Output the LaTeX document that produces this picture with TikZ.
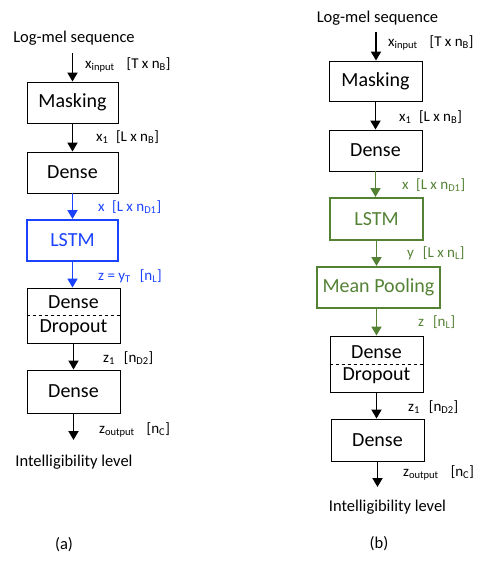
\documentclass[tikz,border=0pt]{standalone}
\usepackage{fontspec}
\setmainfont{Carlito}
\usetikzlibrary{arrows.meta}
\definecolor{myblue}{RGB}{26,66,255}
\definecolor{mygreen}{RGB}{84,130,53}
\tikzset{
  box/.style={draw=black, line width=0.9pt, minimum width=91pt, minimum height=41pt, inner sep=0pt, font=\fontsize{20}{22}\selectfont},
  bluebox/.style={box, draw=myblue, line width=2pt, text=myblue},
  greenbox/.style={box, draw=mygreen, line width=2pt, text=mygreen},
  arr/.style={line width=1.8pt, -{Triangle[length=9pt,width=10pt]}},
  lbl/.style={anchor=west, inner sep=0pt, font=\fontsize{15}{17}\selectfont},
  ttl/.style={inner sep=0pt, font=\fontsize{16.5}{18}\selectfont},
}
\newcommand{\sbs}[1]{\textsubscript{#1}}
\begin{document}
\begin{tikzpicture}[x=1pt,y=-1pt]
\useasboundingbox (0,0) rectangle (498,565);
% ---------- (a) ----------
\node[ttl] (a-in) at (74,38) {Log-mel sequence};
\coordinate (a-start) at (72.5,53);
\node[box] (a-mask) at (72.5,102.5) {Masking};
\node[box] (a-dense1) at (72.5,172.5) {Dense};
\node[bluebox] (a-lstm) at (72.5,240.5) {LSTM};
\node[box, minimum width=93pt, minimum height=55pt] (a-dd) at (73.5,315.5) {};
\node[box, draw=none] (a-ddtop) at (73.5,302.5) {Dense};
\node[box, draw=none] (a-ddbot) at (73.5,328) {Dropout};
\node[box, minimum width=93pt, minimum height=43pt] (a-dense2) at (73.5,391.5) {};
\node[box, draw=none] (a-dense2t) at (73.5,391.5) {Dense};
\coordinate (a-end) at (73.5,440);
\node[ttl] (a-out) at (74,462) {Intelligibility level};
\node[ttl] (a-cap) at (64,545) {(a)};

\draw[arr] (a-start) -- (a-mask.north);
\draw[arr] (a-mask.south) -- (a-dense1.north);
\draw[arr, draw=myblue, fill=myblue] (a-dense1.south) -- (a-lstm.north);
\draw[arr, draw=myblue, fill=myblue] (a-lstm.south) -- (a-lstm.south |- a-dd.north);
\draw[dashed, line width=0.9pt] (a-dd.west) -- (a-dd.east);
\draw[arr] (a-dd.south) -- (a-dense2.north);
\draw[arr] (a-dense2.south) -- (a-end);

\node[lbl] (a-l1) at (85,65) {x\sbs{input}\hspace{0.8em}[T x n\sbs{B}]};
\node[lbl] (a-l2) at (96,137) {x\sbs{1}\hspace{0.5em}[L x n\sbs{B}]};
\node[lbl, text=myblue] (a-l3) at (98,207) {x\hspace{0.5em}[L x n\sbs{D1}]};
\node[lbl, text=myblue] (a-l4) at (98,276) {z = y\sbs{T}\hspace{0.6em}[n\sbs{L}]};
\node[lbl] (a-l5) at (103,358) {z\sbs{1}\hspace{0.6em}[n\sbs{D2}]};
\node[lbl] (a-l6) at (99,430) {z\sbs{output}\hspace{0.8em}[n\sbs{C}]};

% ---------- (b) ----------
\node[ttl] (b-in) at (377.5,18) {Log-mel sequence};
\coordinate (b-start) at (376,32);
\node[box, minimum width=93pt, minimum height=40pt] (b-mask) at (375.5,81) {Masking};
\node[box, minimum width=93pt, minimum height=41pt] (b-dense1) at (375.5,150.5) {Dense};
\node[greenbox, minimum width=93pt, minimum height=42pt] (b-lstm) at (376.5,219) {LSTM};
\node[greenbox, minimum width=123pt, minimum height=41pt] (b-pool) at (378.5,287.5) {Mean Pooling};
\node[box, minimum width=93pt, minimum height=56pt] (b-dd) at (376.5,364) {};
\node[box, draw=none] (b-ddtop) at (376.5,352) {Dense};
\node[box, draw=none] (b-ddbot) at (376.5,376) {Dropout};
\node[box, minimum width=93pt, minimum height=42pt] (b-dense2) at (377.5,440) {Dense};
\coordinate (b-end) at (377.5,487);
\node[ttl] (b-out) at (387.5,507) {Intelligibility level};
\node[ttl] (b-cap) at (379,544) {(b)};

\draw[arr] (b-start) -- (b-start |- b-mask.north);
\draw[arr] (b-mask.south) -- (b-dense1.north);
\draw[arr, draw=mygreen, fill=mygreen] (b-dense1.south) -- (b-dense1.south |- b-lstm.north);
\draw[arr, draw=mygreen, fill=mygreen] (b-lstm.south) -- (b-lstm.south |- b-pool.north);
\draw[arr, draw=mygreen, fill=mygreen] (b-lstm.south |- b-pool.south) -- (b-lstm.south |- b-dd.north);
\draw[dashed, line width=0.9pt] (b-dd.west) -- (b-dd.east);
\draw[arr] (b-dd.south) -- (b-dd.south |- b-dense2.north);
\draw[arr] (b-dense2.south) -- (b-end);

\node[lbl] (b-l1) at (388,43) {x\sbs{input}\hspace{0.8em}[T x n\sbs{B}]};
\node[lbl] (b-l2) at (399,117) {x\sbs{1}\hspace{0.5em}[L x n\sbs{B}]};
\node[lbl, text=mygreen] (b-l3) at (402,185) {x\hspace{0.5em}[L x n\sbs{D1}]};
\node[lbl, text=mygreen] (b-l4) at (407,253) {y\hspace{0.6em}[L x n\sbs{L}]};
\node[lbl, text=mygreen] (b-l5) at (418,322) {z\hspace{0.6em}[n\sbs{L}]};
\node[lbl] (b-l6) at (408,407) {z\sbs{1}\hspace{0.6em}[n\sbs{D2}]};
\node[lbl] (b-l7) at (403,473) {z\sbs{output}\hspace{0.8em}[n\sbs{C}]};
\end{tikzpicture}
\end{document}
